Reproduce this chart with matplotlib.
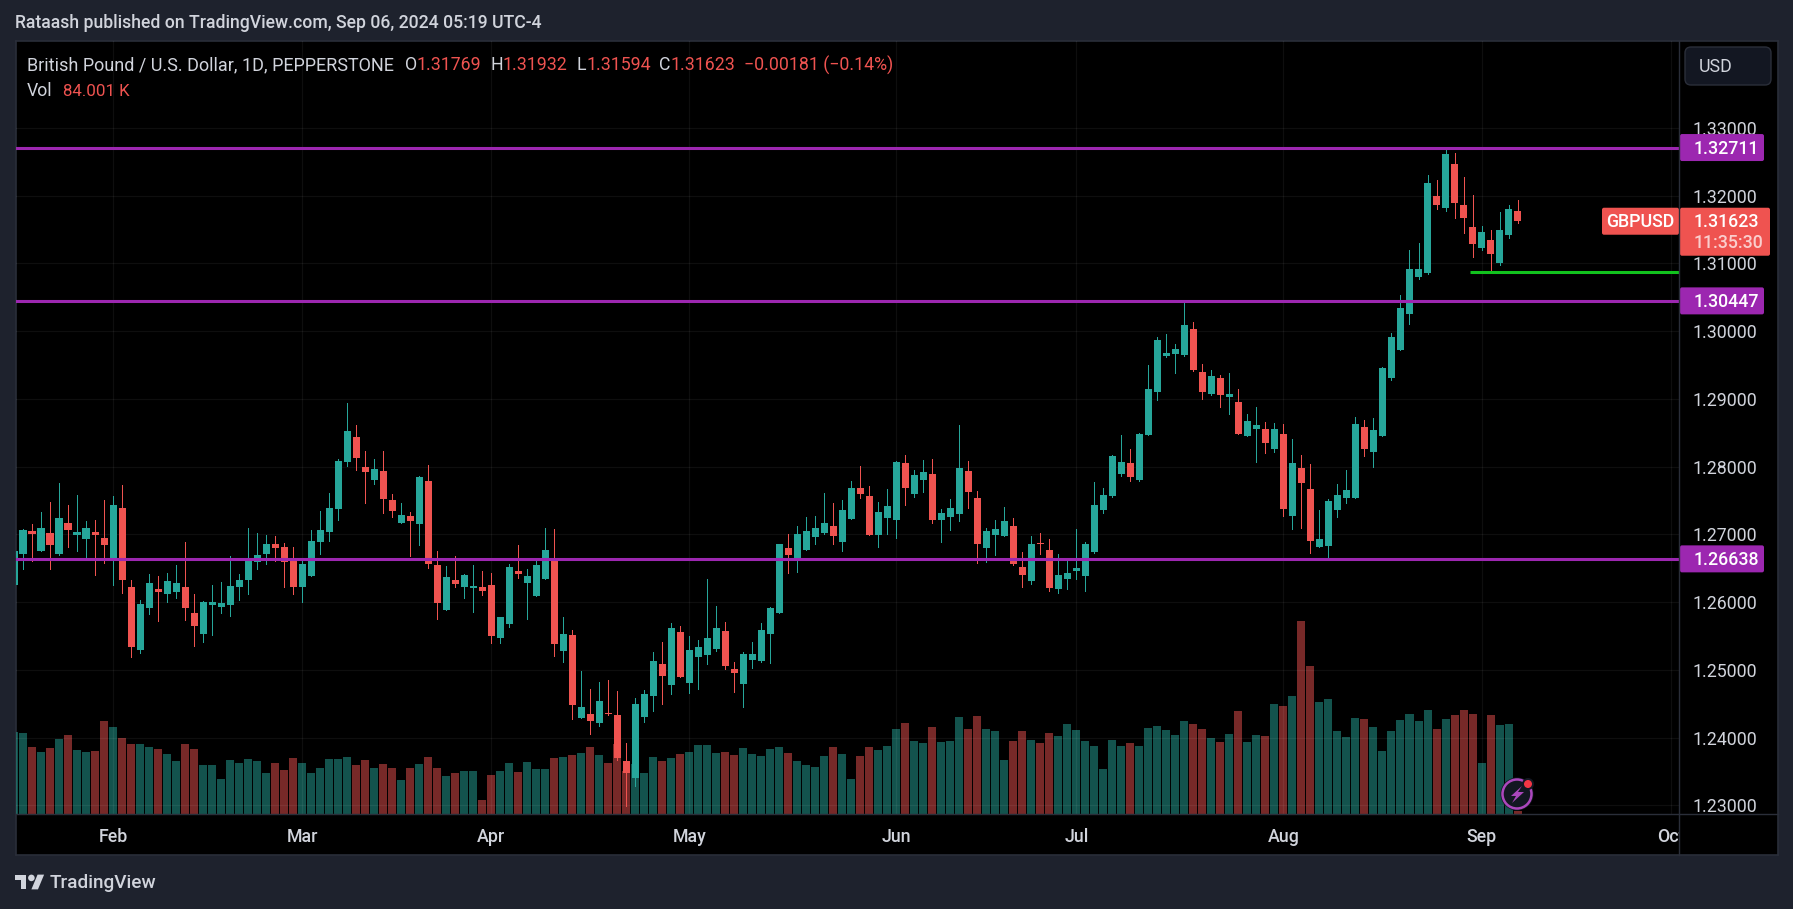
import matplotlib
matplotlib.use("Agg")
import matplotlib.pyplot as plt
from matplotlib.patches import Rectangle, FancyBboxPatch, Circle, Polygon
import numpy as np

plt.rcParams['font.family'] = ['Roboto', 'DejaVu Sans']

# --- data (GBP/USD daily) ---
first_bar = -1
opens = [1.26254,1.26706,1.27046,1.26751,1.27016,1.26706,1.27164,1.26987,1.26928,1.27031,1.26942,1.26632,1.27385,1.26219,1.25289,1.25909,1.26190,1.26116,1.26145,1.26219,1.25835,1.25525,1.25953,1.25924,1.25953,1.26219,1.26322,1.26588,1.26706,1.26854,1.26810,1.26603,1.26219,1.26381,1.26883,1.27031,1.27371,1.28064,1.28434,1.27991,1.27799,1.27932,1.27503,1.27164,1.27267,1.27149,1.27793,1.26544,1.25880,1.26323,1.26219,1.26205,1.26219,1.26249,1.25466,1.25673,1.26456,1.26278,1.26086,1.26337,1.26618,1.25275,1.25511,1.24285,1.24344,1.24212,1.24359,1.24330,1.23651,1.23400,1.24300,1.24610,1.25083,1.24773,1.25555,1.24802,1.25186,1.25215,1.25304,1.25570,1.25009,1.24787,1.25142,1.25127,1.25525,1.25836,1.26795,1.26618,1.26766,1.26957,1.27017,1.27120,1.26884,1.27223,1.27681,1.27563,1.26987,1.27238,1.27208,1.28050,1.27592,1.27799,1.27888,1.27208,1.27253,1.27297,1.27932,1.27533,1.26795,1.26987,1.26972,1.27120,1.26515,1.26308,1.26869,1.26766,1.26190,1.26337,1.26456,1.26382,1.26736,1.27356,1.27563,1.27888,1.28050,1.27799,1.28473,1.29108,1.29640,1.29669,1.29654,1.30038,1.29403,1.29073,1.29309,1.29028,1.28954,1.28452,1.28556,1.28556,1.28261,1.28482,1.27271,1.27980,1.27670,1.26814,1.26829,1.27360,1.27537,1.27537,1.28585,1.28216,1.28452,1.29309,1.29722,1.30254,1.30800,1.30859,1.31996,1.31818,1.32468,1.31863,1.31538,1.31228,1.31346,1.31007,1.31420,1.31769]
closes = [1.26751,1.27061,1.27001,1.27090,1.26839,1.27238,1.27061,1.27031,1.27090,1.26987,1.26839,1.27430,1.26322,1.25333,1.25968,1.26278,1.26145,1.26308,1.26278,1.25909,1.25643,1.25998,1.25998,1.25983,1.26234,1.26322,1.26603,1.26691,1.26854,1.26795,1.26588,1.26219,1.26559,1.26898,1.27061,1.27385,1.28079,1.28522,1.28123,1.27917,1.27961,1.27518,1.27341,1.27282,1.27193,1.27852,1.26559,1.25983,1.26367,1.26264,1.26397,1.26234,1.26160,1.25496,1.25776,1.26515,1.26411,1.26382,1.26544,1.26766,1.25378,1.25525,1.24477,1.24448,1.24241,1.24536,1.24344,1.23695,1.23473,1.24492,1.24640,1.25127,1.24905,1.25614,1.24891,1.25289,1.25334,1.25466,1.25614,1.25053,1.24950,1.25230,1.25230,1.25585,1.25909,1.26854,1.26692,1.27002,1.27046,1.27090,1.27164,1.26972,1.27356,1.27681,1.27592,1.26987,1.27327,1.27415,1.28065,1.27681,1.27873,1.27917,1.27208,1.27312,1.27386,1.27976,1.27622,1.26854,1.27046,1.27076,1.27194,1.26559,1.26396,1.26854,1.26854,1.26205,1.26396,1.26426,1.26500,1.26854,1.27430,1.27578,1.28153,1.28065,1.27843,1.28478,1.29152,1.29876,1.29684,1.29743,1.30097,1.29433,1.29108,1.29338,1.29058,1.29073,1.28482,1.28674,1.28615,1.28349,1.28556,1.27375,1.28054,1.27759,1.26902,1.26932,1.27493,1.27581,1.27655,1.28630,1.28261,1.28541,1.29456,1.29914,1.30342,1.30918,1.30918,1.32188,1.31863,1.32616,1.31892,1.31671,1.31287,1.31464,1.31139,1.31494,1.31804,1.31623]
highs = [1.26751,1.27075,1.27149,1.27326,1.27474,1.27754,1.27430,1.27577,1.27193,1.27208,1.27503,1.27562,1.27725,1.26322,1.26027,1.26411,1.26381,1.26426,1.26544,1.26883,1.26116,1.26012,1.26249,1.26293,1.26677,1.26411,1.27090,1.27016,1.26987,1.26972,1.26869,1.26810,1.26632,1.27061,1.27341,1.27607,1.28109,1.28935,1.28611,1.28227,1.28109,1.28227,1.27592,1.27459,1.27326,1.27867,1.28030,1.26751,1.26529,1.26677,1.26411,1.26544,1.26456,1.26426,1.25776,1.26559,1.26839,1.26485,1.26633,1.27090,1.27076,1.25776,1.25585,1.24979,1.24714,1.24817,1.24846,1.24684,1.23916,1.24581,1.24699,1.25260,1.25407,1.25688,1.25644,1.25496,1.25437,1.26337,1.25939,1.25703,1.25112,1.25260,1.25407,1.25688,1.25924,1.26854,1.27002,1.27120,1.27253,1.27267,1.27607,1.27459,1.27504,1.27784,1.28006,1.27710,1.27474,1.27666,1.28079,1.28168,1.27947,1.28094,1.28109,1.27371,1.27518,1.28611,1.28079,1.27637,1.27090,1.27208,1.27400,1.27238,1.26736,1.26972,1.27017,1.26928,1.26706,1.26618,1.27076,1.26884,1.27769,1.27681,1.28168,1.28463,1.28257,1.28493,1.29507,1.29920,1.29964,1.29817,1.30452,1.30142,1.29522,1.29427,1.29353,1.29383,1.29146,1.28777,1.28881,1.28659,1.28644,1.28630,1.28408,1.28172,1.28039,1.27360,1.27522,1.27744,1.27951,1.28733,1.28689,1.28718,1.29471,1.29973,1.30534,1.31198,1.31302,1.32306,1.32232,1.32675,1.32630,1.32276,1.32010,1.31553,1.31494,1.31759,1.31863,1.31932]
lows = [1.26254,1.26485,1.26603,1.26751,1.26485,1.26691,1.26810,1.26751,1.26618,1.26396,1.26573,1.26249,1.26130,1.25186,1.25245,1.25820,1.25717,1.25998,1.26057,1.25732,1.25348,1.25407,1.25510,1.25835,1.25791,1.26027,1.26116,1.26485,1.26559,1.26603,1.26219,1.26116,1.25998,1.26381,1.26706,1.26898,1.27208,1.28005,1.27946,1.27459,1.27740,1.27312,1.27252,1.27164,1.26677,1.26839,1.26500,1.25747,1.25880,1.26219,1.26057,1.25850,1.26101,1.25393,1.25393,1.25629,1.26352,1.25747,1.26086,1.26337,1.25201,1.25112,1.24271,1.24285,1.24049,1.24167,1.24330,1.23665,1.22991,1.23281,1.24226,1.24389,1.24492,1.24640,1.24891,1.24654,1.24714,1.25083,1.25275,1.25009,1.24669,1.24448,1.25024,1.25112,1.25097,1.25836,1.26426,1.26441,1.26766,1.26854,1.27002,1.26854,1.26751,1.27223,1.27533,1.26987,1.26810,1.27002,1.26943,1.27430,1.27548,1.27622,1.27164,1.26884,1.27061,1.27194,1.27386,1.26574,1.26588,1.26692,1.26972,1.26544,1.26219,1.26264,1.26706,1.26160,1.26131,1.26190,1.26337,1.26160,1.26721,1.27312,1.27548,1.27858,1.27784,1.27784,1.28473,1.28990,1.29625,1.29389,1.29640,1.29418,1.29005,1.29058,1.28881,1.28777,1.28482,1.28452,1.28069,1.28202,1.28216,1.27271,1.27080,1.27094,1.26725,1.26814,1.26651,1.27257,1.27463,1.27537,1.28157,1.27995,1.28452,1.29279,1.29722,1.30106,1.30770,1.30844,1.31804,1.31774,1.31671,1.31449,1.31095,1.31198,1.30874,1.30977,1.31376,1.31594]
volumes_k = [2583,2552,2110,1953,2079,2363,2489,2016,1953,1985,2930,2741,2394,2205,2205,2110,2048,1890,1670,2205,2048,1544,1544,1103,1701,1607,1733,1670,1292,1607,1386,1764,1607,1292,1449,1733,1733,1796,1544,1701,1449,1575,1449,1071,1449,1575,1796,1449,1197,1292,1355,1355,441,1229,1355,1607,1323,1638,1418,1418,1764,1796,1859,1922,2110,1859,1607,2205,1355,1575,1292,1796,1670,1764,1890,1953,2174,2174,1922,1953,1859,2079,1890,1827,2048,2110,1922,1670,1544,1481,1827,2110,1890,1103,1827,2110,2016,2142,2678,2867,2300,2237,2741,2268,2300,3056,2678,3087,2678,2615,1701,2300,2615,2331,2237,2552,2457,2835,2646,2300,2142,1418,2331,2142,2237,2142,2709,2772,2646,2489,2930,2835,2678,2394,2268,2520,3245,2268,2489,2457,3465,3402,3717,6080,4662,3528,3623,2615,2426,3024,2993,2741,1985,2615,2961,3150,2930,3276,2678,2993,3119,3276,3150,1607,3119,2804,2835,84]

month_labels = ['Feb', 'Mar', 'Apr', 'May', 'Jun', 'Jul', 'Aug', 'Sep', 'Oct']
month_bars = [10, 31, 52, 74, 97, 117, 140, 162, 183]
price_ticks = [1.23, 1.24, 1.25, 1.26, 1.27, 1.28, 1.29, 1.30, 1.31, 1.32, 1.33]
levels = [1.32711, 1.30447, 1.26638]
support = 1.30874
support_start_bar = 161
last_close = closes[-1]

W, H = 1793, 909
BG = '#1e222d'; BORDER = '#2a2e39'; TXT = '#d1d4dc'
UP = '#26a69a'; DOWN = '#ef5350'; PURPLE = '#9c27b0'; GREEN = '#12c21e'

fig = plt.figure(figsize=(W / 100, H / 100), dpi=100, facecolor=BG)

def axes_px(l, t, r, b, **kw):
    return fig.add_axes([l / W, 1 - b / H, (r - l) / W, (b - t) / H], **kw)

L, T, R, B, FR, FB = 16, 41, 1679, 814, 1778, 855
xlim = (-0.81, 183.94)
ylim = (1.22871, 1.34284)

# black frame
frame = axes_px(L, T, FR, FB, facecolor='black', zorder=0)
frame.set_xticks([]); frame.set_yticks([])
for s in frame.spines.values():
    s.set_color(BORDER); s.set_linewidth(1.2)

x = np.arange(len(opens)) + first_bar
opens, closes, highs, lows, volumes_k = map(np.array, (opens, closes, highs, lows, volumes_k))
colors = np.where(closes < opens, DOWN, UP)

# volume
ax_v = axes_px(L, T, R, B, facecolor='none', zorder=1)
ax_v.bar(x, volumes_k, width=8 / 9, color=colors, alpha=0.5, linewidth=0, antialiased=False)
ax_v.set_xlim(*xlim); ax_v.set_ylim(0, 24350)
ax_v.axis('off')

# price
ax = axes_px(L, T, R, B, facecolor='none', zorder=2)
ax.set_xlim(*xlim); ax.set_ylim(*ylim)
ax.set_axisbelow(True)
ax.grid(True, color='white', alpha=0.06, linewidth=0.9)
ax.set_xticks(month_bars); ax.set_xticklabels([])
ax.yaxis.tick_right()
ax.set_yticks(price_ticks)
ax.set_yticklabels([f'{p:.5f}' for p in price_ticks], color=TXT, fontsize=12.8)
ax.tick_params(length=0, pad=10)
for s in ax.spines.values():
    s.set_visible(False)
ax.vlines(x, lows, highs, colors=colors, linewidth=0.72, antialiased=False, zorder=3)
ax.bar(x, np.abs(closes - opens), bottom=np.minimum(opens, closes), width=7.6 / 9,
       color=colors, linewidth=0, antialiased=False, zorder=4)
for lv in levels:
    ax.axhline(lv, color=PURPLE, linewidth=2.2, zorder=5)
ax.hlines(support, support_start_bar - 0.3, xlim[1], color=GREEN, linewidth=2.2, zorder=5)

# axis separators
sep = axes_px(0, 0, W, H, facecolor='none', zorder=6)
sep.set_xlim(0, W); sep.set_ylim(H, 0); sep.axis('off')
sep.plot([R, R], [T, FB], color=BORDER, lw=1)
sep.plot([L, FR], [B, B], color=BORDER, lw=1)

def ypx(p):
    return T + (ylim[1] - p) / (ylim[1] - ylim[0]) * (B - T)

# time axis
ax_t = axes_px(L, B, R, FB, facecolor='none', zorder=7)
ax_t.set_xlim(*xlim); ax_t.set_ylim(0, 1); ax_t.axis('off')
for lab, b in zip(month_labels, month_bars):
    ax_t.text(b, 0.43, lab, ha='center', va='center', color=TXT, fontsize=12.8,
              fontweight='medium', clip_on=True)

# price labels
for lv in levels:
    yc = ypx(lv)
    sep.add_patch(FancyBboxPatch((1680, yc - 13.5), 84, 27, boxstyle='round,pad=0,rounding_size=2',
                                 fc=PURPLE, ec='none'))
    sep.text(1693.5, yc + 1, f'{lv:.5f}', color='white', va='center', ha='left', fontsize=12.8, fontweight='medium')

yc = ypx(last_close)
sep.add_patch(FancyBboxPatch((1602, yc - 13.5), 77, 27, boxstyle='round,pad=0,rounding_size=2', fc=DOWN, ec='none'))
sep.add_patch(FancyBboxPatch((1680, yc - 13.5), 90, 48, boxstyle='round,pad=0,rounding_size=2', fc=DOWN, ec='none'))
sep.text(1640.5, yc + 1, 'GBPUSD', color='white', va='center', ha='center', fontsize=12.8, fontweight='medium')
sep.text(1693.5, yc + 1, f'{last_close:.5f}', color='white', va='center', ha='left', fontsize=12.8, fontweight='medium')
sep.text(1693.5, yc + 22, '11:35:30', color=(1, 1, 1, 0.72), va='center', ha='left', fontsize=12.8, fontweight='medium')

# USD button
sep.add_patch(FancyBboxPatch((1685, 47), 86, 38, boxstyle='round,pad=0,rounding_size=6',
                             fc='#131722', ec=BORDER, lw=1))
sep.text(1699, 66.5, 'USD', color=TXT, va='center', ha='left', fontsize=12.8)

# header
sep.text(15, 23, 'Rataash published on TradingView.com, Sep 06, 2024 05:19 UTC-4', color=TXT,
         va='center', ha='left', fontsize=12.7, fontweight='medium')
sep.text(27, 65, 'British Pound / U.S. Dollar, 1D, PEPPERSTONE', color=TXT, va='center', ha='left', fontsize=13)
legend_bits = [(405, 'O', TXT), (417, '1.31769', DOWN), (491, 'H', TXT), (503, '1.31932', DOWN),
               (577, 'L', TXT), (586, '1.31594', DOWN), (659, 'C', TXT), (671, '1.31623', DOWN),
               (744, '\u22120.00181 (\u22120.14%)', DOWN)]
for xp, s, c in legend_bits:
    sep.text(xp, 65, s, color=c, va='center', ha='left', fontsize=12.8)
sep.text(27, 91, 'Vol', color=TXT, va='center', ha='left', fontsize=12.8)
sep.text(63, 91, '84.001 K', color=DOWN, va='center', ha='left', fontsize=12.2)

# bolt icon
sep.add_patch(Circle((1517, 794), 16.5, fc='#131722', ec='none'))
sep.add_patch(Circle((1517, 794), 14.5, fc='#131722', ec='#ab47bc', lw=1.8))
sep.add_patch(Polygon([(1522, 786), (1511, 796), (1516, 796), (1512, 803), (1524, 792), (1518, 792)],
                      closed=True, fc='#ab47bc', ec='none'))
sep.add_patch(Circle((1528, 784), 6, fc='#131722', ec='none'))
sep.add_patch(Circle((1528, 784), 4, fc='#f23645', ec='none'))

# footer logo
s = 0.82; ox, oy = 15, 882 - 13 * s
def P(pts):
    return [(ox + a * s, oy + b * s) for a, b in pts]
sep.add_patch(Polygon(P([(14, 22), (7, 22), (7, 11), (0, 11), (0, 4), (14, 4)]), closed=True, fc=TXT, ec='none'))
sep.add_patch(Polygon(P([(28, 22), (20, 22), (27.5, 4), (35.5, 4)]), closed=True, fc=TXT, ec='none'))
sep.add_patch(Circle((ox + 20 * s, oy + 8 * s), 4 * s, fc=TXT, ec='none'))
sep.text(50, 883, 'TradingView', color=TXT, va='center', ha='left', fontsize=13.7, fontweight='medium')

fig.savefig('out.png', dpi=100, facecolor=BG)
